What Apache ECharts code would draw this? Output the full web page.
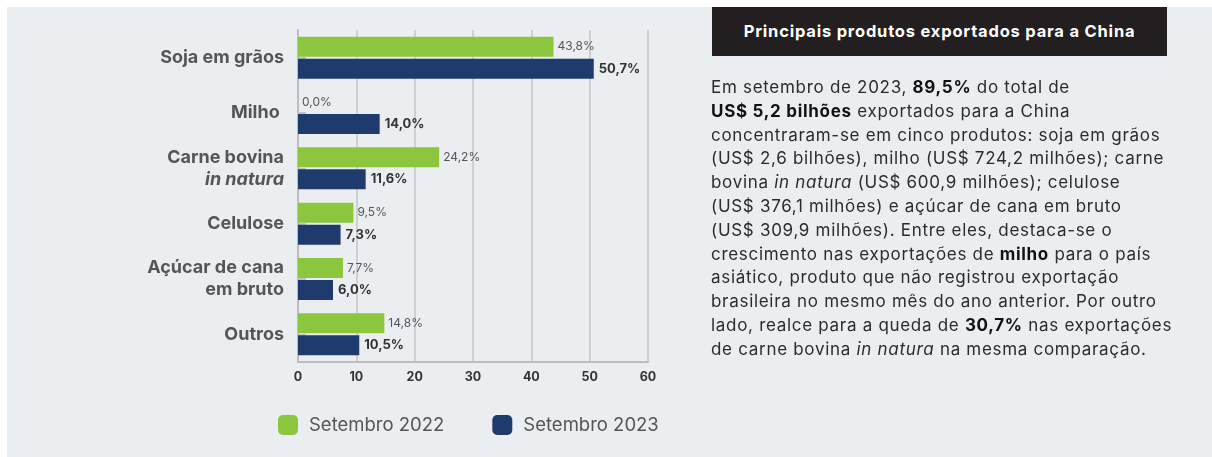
<!DOCTYPE html>
<html>
<head>
<meta charset="utf-8">
<script src="https://cdn.jsdelivr.net/npm/echarts@6/dist/echarts.min.js"></script>
<style>
	body{margin:0;width:1212px;height:457px;background:#fff;position:relative;overflow:hidden;font-family:Inter, "Noto Sans", sans-serif;}
	.panel{position:absolute;left:7px;top:7px;right:0;bottom:0;background:#ebeef0;}
	#chart{position:absolute;left:0;top:0;width:1212px;height:457px;}
	.title_box{position:absolute;left:712px;top:7px;width:455px;height:49px;background:#231f20;color:#fff;
		font-weight:700;font-size:16.5px;letter-spacing:0.8px;line-height:49px;text-align:center;}
	.txt{position:absolute;left:711px;top:76px;width:500px;font-size:17px;letter-spacing:0.7px;line-height:23.8px;color:#2b2b2b;white-space:nowrap;}
	.txt b{font-weight:700;color:#111;}
</style>
</head>
<body>
<div class="panel"></div>
<div id="chart"></div>
<div class="title_box">Principais produtos exportados para a China</div>
<div class="txt">
Em setembro de 2023, <b>89,5%</b> do total de<br>
<b>US$ 5,2 bilhões</b> exportados para a China<br>
concentraram-se em cinco produtos: soja em grãos<br>
(US$ 2,6 bilhões), milho (US$ 724,2 milhões); carne<br>
bovina <i>in natura</i> (US$ 600,9 milhões); celulose<br>
(US$ 376,1 milhões) e açúcar de cana em bruto<br>
(US$ 309,9 milhões). Entre eles, destaca-se o<br>
crescimento nas exportações de <b>milho</b> para o país<br>
asiático, produto que não registrou exportação<br>
brasileira no mesmo mês do ano anterior. Por outro<br>
lado, realce para a queda de <b>30,7%</b> nas exportações<br>
de carne bovina <i>in natura</i> na mesma comparação.
</div>
<script>
// dados
var categories = ['Soja em grãos', 'Milho ', 'Carne bovina\nin natura', 'Celulose', 'Açúcar de cana\nem bruto', 'Outros'];
var set2022 = [43.8, 0.0, 24.2, 9.5, 7.7, 14.8];
var set2023 = [50.7, 14.0, 11.6, 7.3, 6.0, 10.5];
var seriesNames = ['Setembro 2022', 'Setembro 2023'];
var xTicks = [0, 10, 20, 30, 40, 50, 60];

var fmt = function(p){
	return p.value.toFixed(1).replace('.', ',') + '%';
};

var myChart = echarts.init(document.getElementById('chart'));
var option = {
	textStyle: {fontFamily: 'Inter, "Noto Sans", sans-serif'},
	grid: {left: 298, right: 564, top: 30, bottom: 95},
	legend: {
		data: seriesNames,
		left: 278, top: 415,
		padding: 0,
		icon: 'roundRect',
		itemWidth: 20, itemHeight: 20,
		itemGap: 48,
		textStyle: {fontSize: 18.5, color: '#555', padding: [0, 0, 0, 6]}
	},
	xAxis: {
		type: 'value',
		min: xTicks[0], max: xTicks[xTicks.length - 1], interval: 10,
		axisLine: {show: true, lineStyle: {color: '#bdbdbd', width: 2}},
		axisTick: {show: false},
		splitLine: {lineStyle: {color: '#c4c4c4', width: 1.5}},
		axisLabel: {fontSize: 12.5, fontWeight: 'bold', color: '#333', margin: 9}
	},
	yAxis: {
		type: 'category',
		inverse: true,
		data: categories,
		axisLine: {show: true, lineStyle: {color: '#bdbdbd', width: 2}},
		axisTick: {show: true, inside: true, alignWithLabel: true, length: 8, lineStyle: {color: '#c4c4c4', width: 2}},
		axisLabel: {
			margin: 14,
			formatter: function(v){
				return v.split('\n').map(function(l){
					return l == 'in natura' ? '{i|' + l + '}' : '{b|' + l + '}';
				}).join('\n');
			},
			rich: {
				b: {fontSize: 18, fontWeight: 'bold', color: '#555', lineHeight: 22, align: 'right'},
				i: {fontSize: 18, fontWeight: 'bold', fontStyle: 'italic', color: '#555', lineHeight: 22, align: 'right'}
			}
		}
	},
	series: [{
		name: seriesNames[0],
		type: 'bar',
		data: set2022,
		barWidth: 20,
		barGap: '10%',
		itemStyle: {color: '#8cc63e'},
		label: {show: true, position: 'right', distance: 4, formatter: fmt, fontSize: 12, color: '#555'}
	}, {
		name: seriesNames[1],
		type: 'bar',
		data: set2023,
		barWidth: 20,
		itemStyle: {color: '#1f3a6c'},
		label: {show: true, position: 'right', distance: 5, formatter: fmt, fontSize: 13, fontWeight: 'bold', color: '#333'}
	}]
};
myChart.setOption(option);
</script>
</body>
</html>
